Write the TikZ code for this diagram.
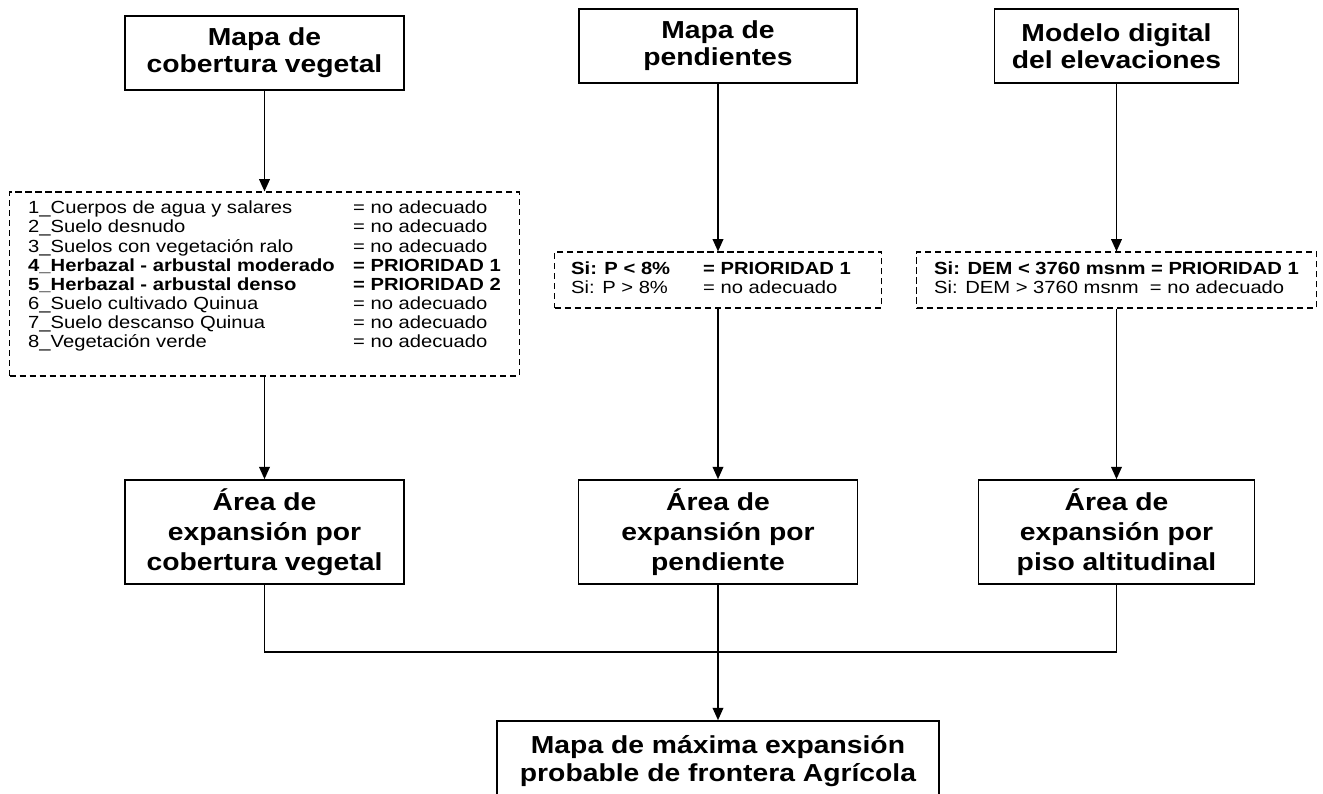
\documentclass[tikz,border=0pt]{standalone}
\usepackage{fontspec}
\setmainfont{Liberation Sans}[FakeStretch=1.15]
\usetikzlibrary{arrows.meta,positioning}
\tikzset{
    block/.style = {draw, rectangle, line width=0.9pt, align=center,
        font=\fontsize{14}{15.5}\selectfont\bfseries,
        minimum height=1.48cm,
        minimum width=5.58cm, inner sep=0pt},
    lowblock/.style = {block, minimum height=2.08cm,
        font=\fontsize{14}{17}\selectfont\bfseries},
    critbox/.style = {draw, rectangle, line width=0.6pt,
        dash pattern=on 3.5pt off 2.2pt,
        minimum height=1.12cm, inner sep=0pt,
        font=\fontsize{10}{10.9}\selectfont},
    arrow/.style = {draw, line width=1pt, -{Triangle[length=7pt,width=6pt]}},
    link/.style = {draw, line width=1pt}
}

\begin{document}
\begin{tikzpicture}[x=0.02cm,y=-0.02cm]
        \useasboundingbox (0,0) rectangle (1323,794);
        \clip (0,0) rectangle (1323,794);
        % mapas de entrada
        \node[block] (cob) at (264.5,53) {Mapa de\\cobertura vegetal};
        \node[block, minimum width=5.56cm] (pen) at (718,46) {Mapa de\\pendientes};
        \node[block, minimum width=4.88cm] (dem) at (1116.5,46) {Modelo digital\\del elevaciones};
        % criterios
        \node[critbox, minimum width=10.2cm, minimum height=3.68cm] (cobreg) at (264.5,284) {%
            \begin{tabular}{@{}p{6.5cm}@{}l@{}}
            1\_Cuerpos de agua y salares & = no adecuado\\
            2\_Suelo desnudo & = no adecuado\\
            3\_Suelos con vegetación ralo & = no adecuado\\
            \textbf{4\_Herbazal - arbustal moderado} & \textbf{= PRIORIDAD 1}\\
            \textbf{5\_Herbazal - arbustal denso} & \textbf{= PRIORIDAD 2}\\
            6\_Suelo cultivado Quinua & = no adecuado\\
            7\_Suelo descanso Quinua & = no adecuado\\
            8\_Vegetación verde & = no adecuado\\[0.28cm]
            \end{tabular}};
        \node[critbox, minimum width=6.54cm] (penreg) at (718,280) {%
            \begin{tabular}{@{}p{2.64cm}@{}l@{\hspace{0.28cm}}}
            \textbf{Si: P < 8\%} & \textbf{= PRIORIDAD 1}\\
            Si: P > 8\% & = no adecuado
            \end{tabular}};
        \node[critbox, minimum width=8cm] (demreg) at (1116.5,280) {%
            \begin{tabular}{@{}l@{}}
            \textbf{Si: DEM < 3760 msnm = PRIORIDAD 1}\\
            Si: DEM > 3760 msnm\ \ = no adecuado
            \end{tabular}};
        % areas de expansion
        \node[lowblock] (acob) at (264.5,532) {Área de\\expansión por\\cobertura vegetal};
        \node[lowblock] (apen) at (718,532) {Área de\\expansión por\\pendiente};
        \node[lowblock, minimum width=5.52cm] (apis) at (1116.5,532) {Área de\\expansión por\\piso altitudinal};
        % resultado
        \node[block, minimum width=8.84cm, minimum height=1.6cm,
            font=\fontsize{14}{16}\selectfont\bfseries] (mapa) at (718,761)
            {Mapa de máxima expansión\\probable de frontera Agrícola};
        \coordinate (join) at (718,652);
        \draw[arrow] (cob) -- (cobreg);
        \draw[arrow] (pen) -- (penreg);
        \draw[arrow] (dem) -- (demreg);
        \draw[arrow] (cobreg) -- (acob);
        \draw[arrow] (penreg) -- (apen);
        \draw[arrow] (demreg) -- (apis);
        \draw[link] (acob.south) |- (join) -| (apis.south);
        \draw[arrow] (apen) -- (mapa);
        \end{tikzpicture}
\end{document}
